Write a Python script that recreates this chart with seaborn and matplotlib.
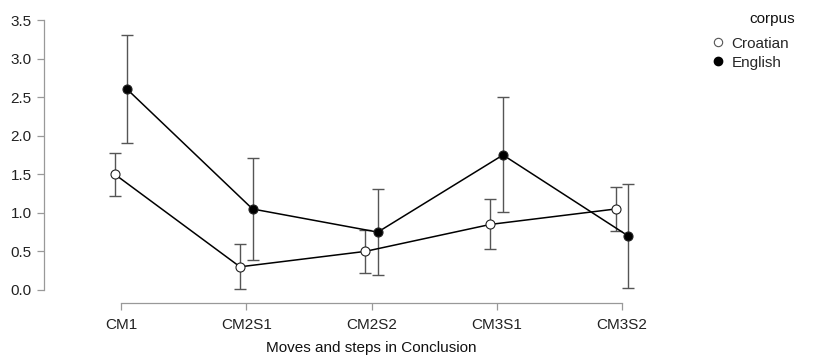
import numpy as np
import pandas as pd
import matplotlib
matplotlib.use("Agg")
import matplotlib.pyplot as plt
from matplotlib.lines import Line2D
import seaborn as sns

moves = ["CM1", "CM2S1", "CM2S2", "CM3S1", "CM3S2"]
corpora = ["Croatian", "English"]

# means and 95% CI bounds
croatian_mean = [1.50, 0.30, 0.50, 0.85, 1.05]
croatian_low = [1.22, 0.01, 0.22, 0.53, 0.77]
croatian_high = [1.78, 0.60, 0.78, 1.18, 1.34]

english_mean = [2.60, 1.05, 0.75, 1.75, 0.70]
english_low = [1.90, 0.39, 0.20, 1.01, 0.03]
english_high = [3.30, 1.71, 1.31, 2.50, 1.37]

df = pd.DataFrame({
    "move": moves * 2,
    "corpus": ["Croatian"] * 5 + ["English"] * 5,
    "mean": croatian_mean + english_mean,
    "low": croatian_low + english_low,
    "high": croatian_high + english_high,
})

sns.set_style("white")
plt.rcParams["font.family"] = ["Liberation Sans", "DejaVu Sans"]
fs = 11

fig = plt.figure(figsize=(8.17, 3.55), dpi=100)
ax = fig.add_axes([44 / 817, 1 - 303 / 355, (699 - 44) / 817, (303 - 20) / 355])

sns.pointplot(data=df, x="move", y="mean", hue="corpus", order=moves,
              hue_order=corpora, palette={"Croatian": "black", "English": "black"},
              errorbar=None, dodge=0.1, markers="o", linestyles="-",
              linewidth=1.1, markersize=6.5, markeredgewidth=0.8,
              legend=False, ax=ax)

line_colors = {"Croatian": "white", "English": "black"}
for ln, corp in zip(ax.lines[:2], corpora):
    ln.set_markerfacecolor(line_colors[corp])
    ln.set_markeredgecolor("#222222")
    ln.set_zorder(4)
    sub = df[df.corpus == corp]
    xs = ln.get_xdata()
    ax.errorbar(xs, sub["mean"], yerr=[sub["mean"] - sub["low"], sub["high"] - sub["mean"]],
                fmt="none", ecolor="#555555", elinewidth=1.0, capsize=4.5,
                capthick=1.0, zorder=2)

ax.set_xlim(-0.615, 4.615)
ax.set_ylim(-0.169, 3.5)
ax.set_yticks(np.arange(0, 3.51, 0.5))
ax.set_yticklabels([f"{v:.1f}" for v in np.arange(0, 3.51, 0.5)])

for side in ["top", "right"]:
    ax.spines[side].set_visible(False)
ax.spines["left"].set_bounds(0, 3.5)
ax.spines["bottom"].set_bounds(0, 4)
for side in ["left", "bottom"]:
    ax.spines[side].set_color("#999999")
    ax.spines[side].set_linewidth(0.9)

ax.tick_params(axis="both", direction="out", length=5, width=0.9, color="#999999",
               labelcolor="#222222", labelsize=fs, left=True, bottom=True)
ax.tick_params(axis="y", pad=4)
ax.tick_params(axis="x", pad=6)

ax.set_ylabel("")
ax.set_xlabel("Moves and steps in Conclusion", fontsize=fs, color="#111111")
ax.xaxis.set_label_coords(0.5, -0.135)

handles = [
    Line2D([], [], ls="", marker="o", markersize=6, markerfacecolor="white",
           markeredgecolor="#555555", markeredgewidth=0.8),
    Line2D([], [], ls="", marker="o", markersize=6, markerfacecolor="black",
           markeredgecolor="black"),
]
fig.legend(handles, corpora, loc="upper left",
           bbox_to_anchor=(698 / 817, 1 - 23 / 355), frameon=False,
           fontsize=fs, handlelength=0.8, handletextpad=0.5, labelspacing=0.33)
fig.text(795 / 817, 1 - 19 / 355, "corpus", ha="right", va="center",
         fontsize=fs, color="#111111")

fig.savefig("out.png", dpi=100)
